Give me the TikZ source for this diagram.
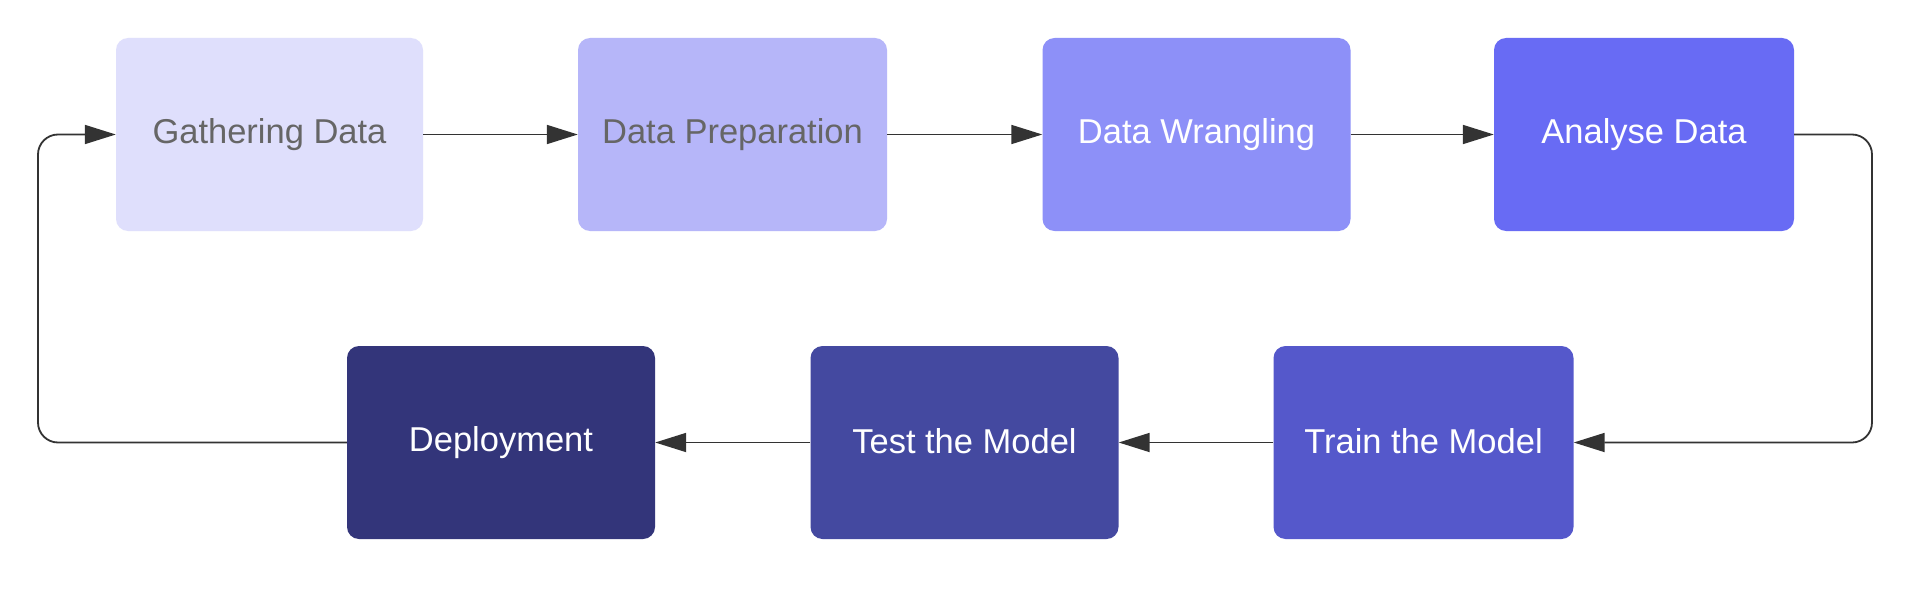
\documentclass[tikz,border=0pt]{standalone}
\usepackage{fontspec}
\setmainfont{Liberation Sans}
\usetikzlibrary{arrows.meta}
\definecolor{c1}{HTML}{DFDFFC}
\definecolor{c2}{HTML}{B6B6F9}
\definecolor{c3}{HTML}{8D90F8}
\definecolor{c4}{HTML}{686BF4}
\definecolor{c5}{HTML}{5558CB}
\definecolor{c6}{HTML}{4449A0}
\definecolor{c7}{HTML}{33357A}
\definecolor{txtgray}{HTML}{666666}
\definecolor{linec}{HTML}{333333}
\newcommand{\lift}[1]{\raisebox{4pt}{#1}}
\tikzset{
  stepbox/.style={rectangle, rounded corners=12pt, inner sep=0pt, minimum height=193pt,
    font=\fontsize{34.5}{40}\selectfont},
  conn/.style={draw=linec, line width=1.8pt, -{Triangle[length=31pt,width=19pt]}, rounded corners=20pt}
}
\begin{document}
\begin{tikzpicture}[x=1pt,y=-1pt]
\useasboundingbox (0,0) rectangle (1912,594);
\fill[white] (0,0) rectangle (1912,594);
\node[stepbox, fill=c1, text=txtgray, minimum width=307pt] (gd) at (269.5,134.5) {\lift{Gathering Data}};
\node[stepbox, fill=c2, text=txtgray, minimum width=309pt] (dp) at (732.5,134.5) {\lift{Data Preparation}};
\node[stepbox, fill=c3, text=white, minimum width=308pt] (dw) at (1196.5,134.5) {\lift{Data Wrangling}};
\node[stepbox, fill=c4, text=white, minimum width=300pt] (ad) at (1644,134.5) {\lift{Analyse Data}};
\node[stepbox, fill=c5, text=white, minimum width=300pt] (tr) at (1423.5,442.5) {\lift{Train the Model}};
\node[stepbox, fill=c6, text=white, minimum width=308pt] (te) at (964.5,442.5) {\lift{Test the Model}};
\node[stepbox, fill=c7, text=white, minimum width=308pt] (de) at (501,442.5) {\lift{Deployment}};
\coordinate (rr) at (1872,0);
\coordinate (ll) at (38,0);
\draw[conn] (gd.east) -- (dp.west);
\draw[conn] (dp.east) -- (dw.west);
\draw[conn] (dw.east) -- (ad.west);
\draw[conn] (ad.east) -- (ad.east -| rr) -- (tr.east -| rr) -- (tr.east);
\draw[conn] (tr.west) -- (te.east);
\draw[conn] (te.west) -- (de.east);
\draw[conn] (de.west) -- (de.west -| ll) -- (gd.west -| ll) -- (gd.west);
\end{tikzpicture}
\end{document}
